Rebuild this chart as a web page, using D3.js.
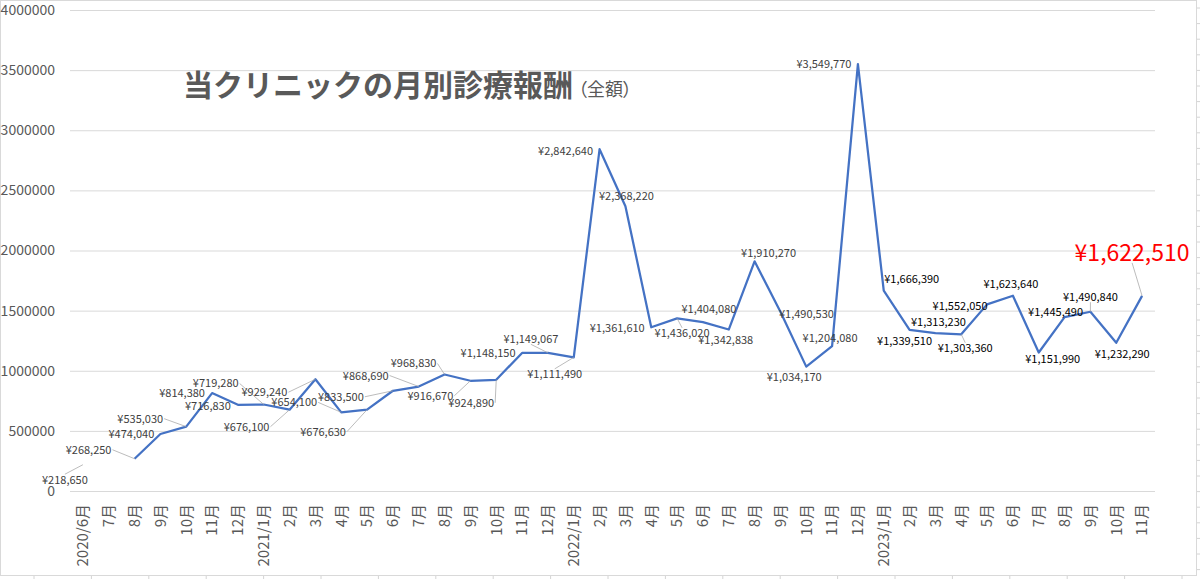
<!DOCTYPE html>
<html>
<head>
  <meta charset="utf-8">
  <title>当クリニックの月別診療報酬</title>
  <script src="https://cdn.jsdelivr.net/npm/d3@7"></script>
  <style>
    body { margin: 0; background: #fff; }
    text { font-family: "Noto Sans CJK JP", "Noto Sans", sans-serif; }
  </style>
</head>
<body>
<script>
  // months on the x axis
  var months = ["2020/6月", "7月", "8月", "9月", "10月", "11月", "12月",
    "2021/1月", "2月", "3月", "4月", "5月", "6月", "7月", "8月", "9月", "10月", "11月", "12月",
    "2022/1月", "2月", "3月", "4月", "5月", "6月", "7月", "8月", "9月", "10月", "11月", "12月",
    "2023/1月", "2月", "3月", "4月", "5月", "6月", "7月", "8月", "9月", "10月", "11月"];

  // monthly revenue (yen), 2020/7 has no value
  var revenue = [218650, null, 268250, 474040, 535030, 814380, 716830,
    719280, 676100, 929240, 654100, 676630, 833500, 868690, 968830, 916670, 924890, 1148150, 1149067,
    1111490, 2842640, 2368220, 1361610, 1436020, 1404080, 1342838, 1910270, 1490530, 1034170, 1204080, 3549770,
    1666390, 1339510, 1313230, 1303360, 1552050, 1623640, 1151990, 1445490, 1490840, 1232290, 1622510];

  var yTicks = [0, 500000, 1000000, 1500000, 2000000, 2500000, 3000000, 3500000, 4000000];

  // where each data label sits relative to its point
  var labelOffsets = [[-18, 15], null, [-46, -9], [-29, 0], [-46, -8], [-30, 0], [-30, 1],
    [-48, -21], [-43, 17], [-51, 13], [-47, -10], [-44, 22], [-52, 6], [-53, -11], [-31, -11], [-40, 15], [-25, 23], [-34, 0], [-17, -14],
    [-19, 17], [-34, 2], [1, -10], [-34, 1], [5, 15], [6, -13], [-3, 11], [14, -8], [26, 2], [-12, 10], [-2, -8], [-34, 0],
    [28, -12], [-5, 11], [3, -11], [4, 14], [-27, 2], [-2, -12], [14, 7], [-9, -5], [0, -15], [6, 11], [-10, -43]];

  var width = 1200, height = 579;
  var plot = { left: 70, right: 1155, top: 10, bottom: 491 };

  var svg = d3.select("body").append("svg")
      .attr("width", width)
      .attr("height", height);

  // spreadsheet cells peeking round the chart object
  var cells = svg.append("g").attr("stroke", "#d4d4d4").attr("stroke-width", 1);
  for (var cx = 34; cx < width; cx += 57.4) {
    cells.append("line").attr("x1", cx).attr("x2", cx).attr("y1", 576).attr("y2", height);
  }
  for (var cy = 8; cy < height; cy += 15.6) {
    cells.append("line").attr("x1", 1197).attr("x2", width).attr("y1", cy).attr("y2", cy);
  }

  svg.append("rect")
      .attr("x", 0.5).attr("y", 0.5)
      .attr("width", 1196).attr("height", 575)
      .attr("fill", "#fff")
      .attr("stroke", "#d9d9d9");

  var data = months.map(function(m, i){
    return { month: m, value: revenue[i], offset: labelOffsets[i], i: i };
  });

  var xScale = d3.scaleBand()
      .domain(d3.range(months.length))
      .range([plot.left, plot.right]);

  var yScale = d3.scaleLinear()
      .domain([0, 4000000])
      .range([plot.bottom, plot.top]);

  function px(d){ return xScale(d.i) + xScale.bandwidth() / 2; }

  // gridlines + y labels
  var yAxis = d3.axisLeft(yScale)
      .tickValues(yTicks)
      .tickFormat(d3.format("d"))
      .tickSize(-(plot.right - plot.left))
      .tickPadding(15);

  var gy = svg.append("g")
      .attr("transform", "translate(" + plot.left + ",0)")
      .call(yAxis);
  gy.select(".domain").remove();
  gy.selectAll(".tick line").attr("stroke", "#d9d9d9").attr("stroke-width", 1);
  gy.selectAll(".tick text")
      .attr("fill", "#595959")
      .style("font-size", "14px");

  // x labels, vertical
  var xAxis = d3.axisBottom(xScale)
      .tickFormat(function(i){ return months[i]; })
      .tickSize(0);

  var gx = svg.append("g")
      .attr("transform", "translate(0," + plot.bottom + ")")
      .call(xAxis);
  gx.select(".domain").remove();
  gx.selectAll(".tick text")
      .attr("fill", "#595959")
      .style("font-size", "15px")
      .attr("text-anchor", "end")
      .attr("transform", "rotate(-90)")
      .attr("x", -13)
      .attr("y", 0)
      .attr("dy", "0.35em");

  // the line
  var line = d3.line()
      .defined(function(d){ return d.value != null; })
      .x(px)
      .y(function(d){ return yScale(d.value); });

  svg.append("path")
      .datum(data)
      .attr("d", line)
      .attr("fill", "none")
      .attr("stroke", "#4472c4")
      .attr("stroke-width", 2.25)
      .attr("stroke-linejoin", "round");

  // data labels with leader lines
  var fmt = d3.format(",");
  var withValue = data.filter(function(d){ return d.value != null; });
  var last = revenue.length - 1;

  var leaders = svg.append("g");
  var labels = svg.append("g");

  withValue.forEach(function(d){
    var x0 = px(d), y0 = yScale(d.value);
    var lx = x0 + d.offset[0], ly = y0 + d.offset[1];
    var isLast = d.i === last;

    var t = labels.append("text")
        .attr("x", lx)
        .attr("y", ly)
        .attr("dy", "0.36em")
        .attr("text-anchor", "middle")
        .style("font-size", isLast ? "23px" : "11px")
        .attr("fill", isLast ? "#ff0000" : (d.i >= 31 ? "#000" : "#404040"))
        .text("¥" + fmt(d.value));

    var w = t.node().getComputedTextLength();
    var h = isLast ? 20 : 11;
    // distance from label box to point
    var nx = Math.max(lx - w / 2, Math.min(x0, lx + w / 2));
    var ny = Math.max(ly - h / 2, Math.min(y0, ly + h / 2));
    if (Math.hypot(nx - x0, ny - y0) > 7.5) {
      // leader starts at the middle of the nearest edge, like excel
      var sx, sy;
      if (x0 >= lx - w / 2 && x0 <= lx + w / 2) {
        sx = lx; sy = y0 < ly ? ly - h / 2 : ly + h / 2;
      } else {
        sy = ly; sx = x0 < lx ? lx - w / 2 - 1 : lx + w / 2 + 1;
      }
      leaders.append("line")
          .attr("x1", sx).attr("y1", sy)
          .attr("x2", x0).attr("y2", y0)
          .attr("stroke", "#a6a6a6")
          .attr("stroke-width", 0.75);
    }
  });

  // title
  var title = svg.append("text")
      .attr("x", 183)
      .attr("y", 96)
      .attr("fill", "#595959");
  title.append("tspan")
      .style("font-size", "30px")
      .style("font-weight", "bold")
      .text("当クリニックの月別診療報酬");
  title.append("tspan")
      .attr("dx", 5)
      .style("font-size", "18px")
      .style("font-feature-settings", "'palt'")
      .text("（全額）");
</script>
</body>
</html>
